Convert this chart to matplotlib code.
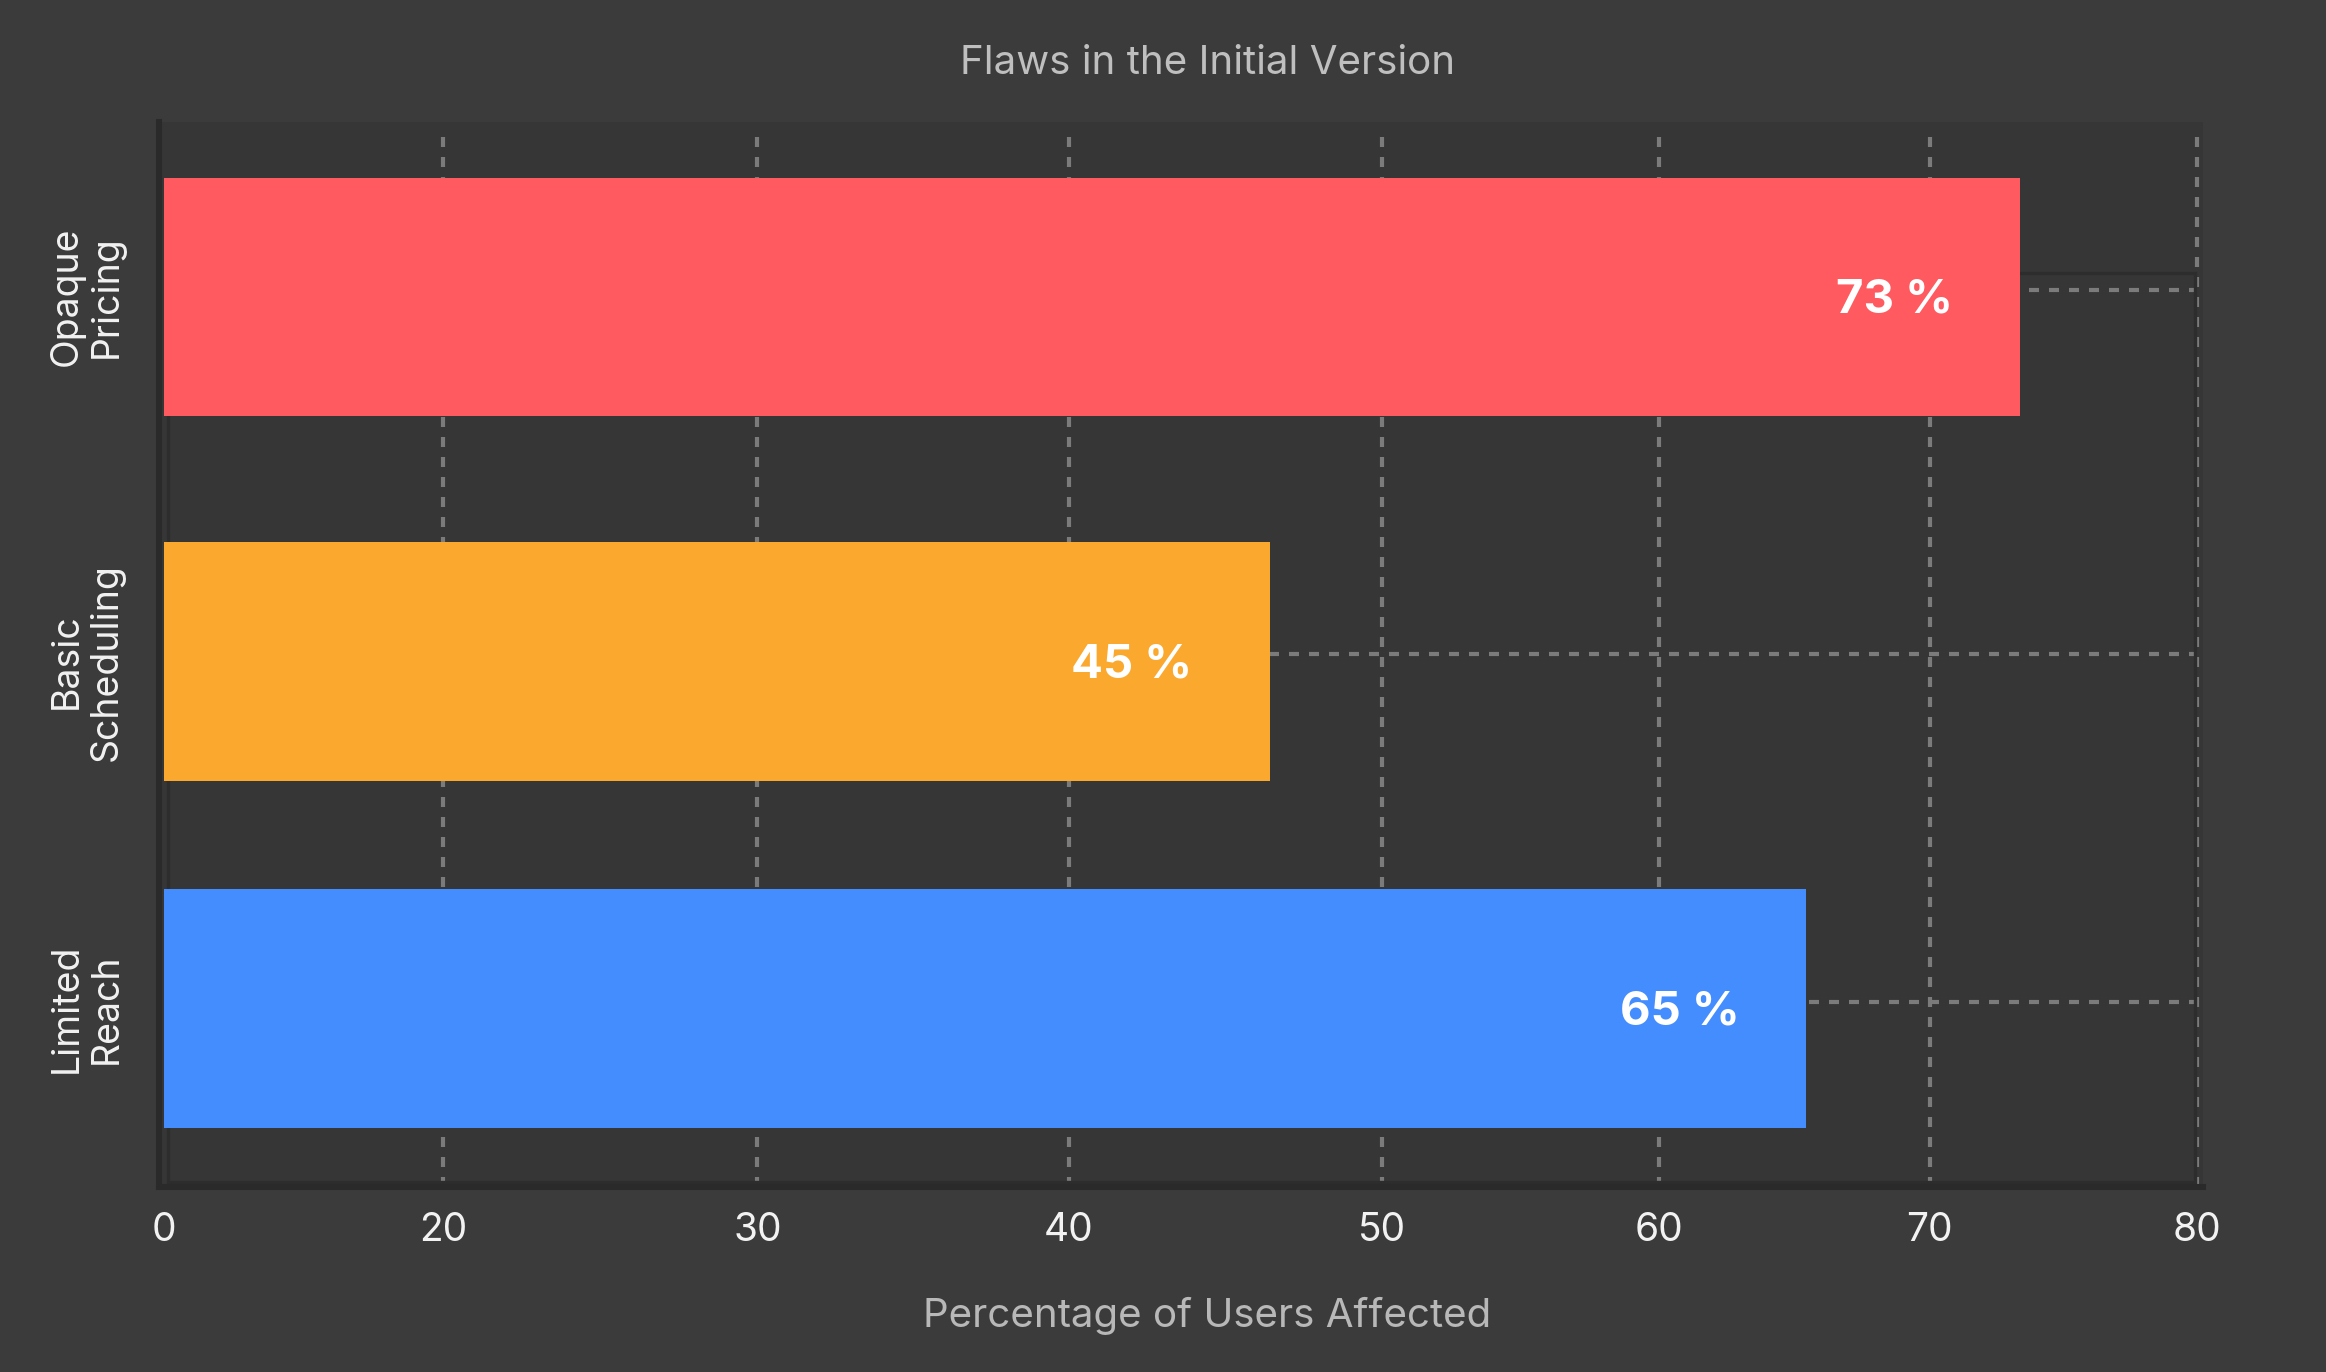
import matplotlib
matplotlib.use("Agg")
import matplotlib.pyplot as plt
from matplotlib.patches import Rectangle

# ---- data ----
categories = ["Opaque\nPricing", "Basic\nScheduling", "Limited\nReach"]
values = [73.0, 43.5, 64.6]              # bar lengths
value_labels = ["73 %", "45 %", "65 %"]
bar_colors = ["#FF5A5F", "#FBA82E", "#448DFF"]
tick_labels = ["0", "20", "30", "40", "50", "60", "70", "80"]
title = "Flaws in the Initial Version"
xlabel = "Percentage of Users Affected"

# ---- layout (positions as drawn in the reference) ----
tick_positions = [0.0, 11.0, 23.35, 35.6, 47.9, 58.8, 69.45, 79.95]
y_positions = [0.0, 1.025, 2.0]
label_offsets = [-24, -28, -24]

plt.rcParams["font.family"] = ["Inter", "DejaVu Sans"]

W, H = 1568.0, 925.0
fig = plt.figure(figsize=(11.63, 6.86), dpi=200, facecolor="#3b3b3b")
ax = fig.add_axes([107 / W, 1 - 800 / H, (1485 - 107) / W, (800 - 82) / H])
ax.set_facecolor("#363636")

ax.barh(y_positions, values, height=0.67, color=bar_colors, zorder=3)

ax.set_xlim(-0.2, 80.2)
ax.set_ylim(2.5, -0.492)

# faint inner frame
ax.add_patch(Rectangle((0.18, -0.067), 79.7, 2.555, fill=False,
                       ec="#2d2d2d", lw=1.2, zorder=1))

ax.set_xticks(tick_positions)
ax.set_xticklabels(tick_labels)
ax.set_yticks(y_positions)
ax.set_yticklabels(categories, rotation=90, va="center", ha="center",
                   linespacing=1.15)

ax.tick_params(axis="x", length=0, pad=9, labelsize=14, labelcolor="#f2f2f2")
ax.tick_params(axis="y", length=0, pad=26, labelsize=13.5, labelcolor="#f2f2f2")

grid_kw = dict(color="#7b7b7b", linestyle=(0, (2.4, 2.4)), linewidth=1.5)
ax.vlines(tick_positions[1:], -0.45, 2.5, zorder=0.5, **grid_kw)
ax.hlines([yp - 0.02 for yp in y_positions], 0.2, 79.9, zorder=0.5, **grid_kw)

for s in ["top", "right"]:
    ax.spines[s].set_visible(False)
for s in ["left", "bottom"]:
    ax.spines[s].set_color("#2a2a2a")
    ax.spines[s].set_linewidth(2.2)

for yi, v, lab, off in zip(y_positions, values, value_labels, label_offsets):
    ax.annotate(lab, xy=(v, yi), xytext=(off, -1.5), textcoords="offset points",
                ha="right", va="center", color="white", fontsize=17,
                fontweight="bold", zorder=4)

fig.text(814 / W, 1 - 43 / H, title, ha="center", va="center",
         color="#bfbfbf", fontsize=14.5)
fig.text(814 / W, 1 - 887 / H, xlabel, ha="center", va="center",
         color="#b8b8b8", fontsize=14.5)

fig.savefig("out.png", dpi=200, facecolor=fig.get_facecolor())
